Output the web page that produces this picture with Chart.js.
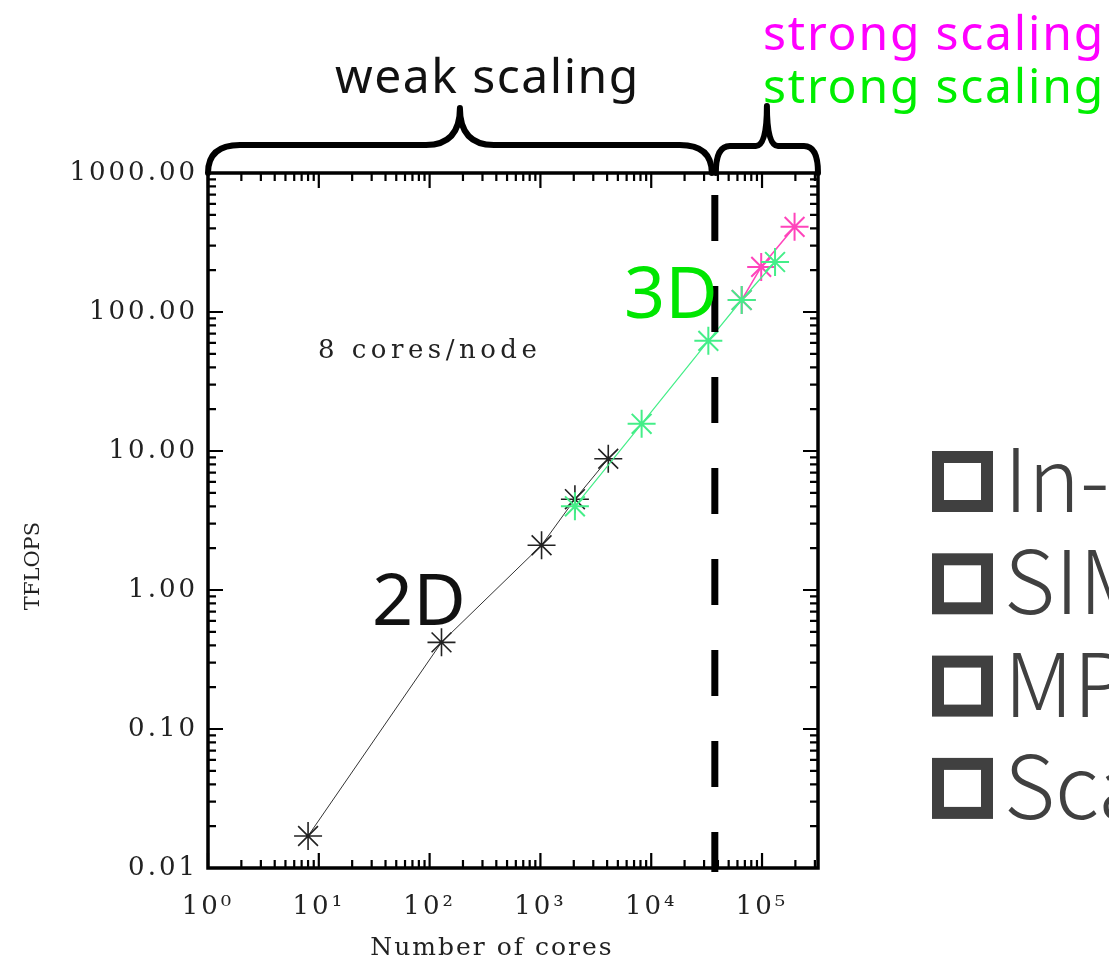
<!DOCTYPE html>
<html>
<head>
<meta charset="utf-8">
<script src="https://cdn.jsdelivr.net/npm/chart.js@4.4.1/dist/chart.umd.min.js"></script>
<style>
	html, body { margin: 0; padding: 0; background: #fff; overflow: hidden; }
	#wrap { position: relative; width: 1109px; height: 963px; }
</style>
</head>
<body>
<div id="wrap"><canvas id="scaling" width="1109" height="963"></canvas></div>
<script>
// 2D runs (black)
const coresBlack = [8, 128, 1024, 2048, 4096];
const tflopsBlack = [0.017, 0.42, 2.1, 4.5, 8.8];
// 3D runs (green)
const coresGreen = [2048, 8192, 32768, 65536, 131072];
const tflopsGreen = [4.0, 15.7, 62, 122, 229];
// 3D strong scaling (magenta)
const coresMagenta = [65536, 98304, 196608];
const tflopsMagenta = [122, 211, 410];

// where weak scaling ends
const dividerCores = 37500;

const xTickValues = [1, 10, 100, 1000, 10000, 100000];
const xTickLabels = ["10⁰", "10¹", "10²", "10³", "10⁴", "10⁵"];
const yTickValues = [0.01, 0.1, 1, 10, 100, 1000];
const yTickLabels = ["0.01", "0.10", "1.00", "10.00", "100.00", "1000.00"];

const bulletItems = ["In-", "SIM", "MP", "Sca"];

const toPoints = (xs, ys) => xs.map((x, i) => ({ x, y: ys[i] }));

// log minor tick values between min and max
const logMarks = (min, max) => {
	const out = [];
	for (let e = Math.floor(Math.log10(min)); e <= Math.ceil(Math.log10(max)); e++) {
		for (let m = 1; m <= 9; m++) {
			const v = m * Math.pow(10, e);
			if (v >= min * 0.999 && v <= max * 1.001) out.push({ v, major: m === 1 });
		}
	}
	return out;
};

const decorations = {
	id: "decorations",
	beforeDraw(chart) {
		chart.ctx.letterSpacing = "3px";
	},
	beforeDatasetsDraw(chart) {
		const { ctx, chartArea: a, scales } = chart;
		const { x, y } = scales;
		ctx.save();
		ctx.letterSpacing = "0px";
		ctx.strokeStyle = "#000";
		ctx.lineWidth = 2.2;
		// inward ticks on all four sides
		logMarks(x.min, x.max).forEach((t) => {
			const px = x.getPixelForValue(t.v);
			const len = t.major ? 15 : 8;
			ctx.beginPath();
			ctx.moveTo(px, a.bottom);
			ctx.lineTo(px, a.bottom - len);
			ctx.moveTo(px, a.top);
			ctx.lineTo(px, a.top + len);
			ctx.stroke();
		});
		logMarks(y.min, y.max).forEach((t) => {
			const py = y.getPixelForValue(t.v);
			const len = t.major ? 15 : 8;
			ctx.beginPath();
			ctx.moveTo(a.left, py);
			ctx.lineTo(a.left + len, py);
			ctx.moveTo(a.right, py);
			ctx.lineTo(a.right - len, py);
			ctx.stroke();
		});
		// frame
		ctx.lineWidth = 3.5;
		ctx.strokeRect(a.left, a.top, a.right - a.left, a.bottom - a.top);
		ctx.restore();
	},
	afterDraw(chart) {
		const { ctx, chartArea: a, scales } = chart;
		const dx = scales.x.getPixelForValue(dividerCores);
		ctx.save();
		ctx.letterSpacing = "0px";

		// dashed divider
		ctx.strokeStyle = "#000";
		ctx.lineWidth = 7;
		ctx.setLineDash([46, 45]);
		ctx.beginPath();
		ctx.moveTo(dx, 195);
		ctx.lineTo(dx, a.bottom + 4);
		ctx.stroke();
		ctx.setLineDash([]);

		// braces
		const brace = (l, r, h, peakY, rad, pw) => {
			const p = (l + r) / 2;
			ctx.beginPath();
			ctx.moveTo(l, a.top);
			ctx.quadraticCurveTo(l, h, l + rad, h);
			ctx.lineTo(p - pw, h);
			ctx.quadraticCurveTo(p, h, p, peakY);
			ctx.quadraticCurveTo(p, h, p + pw, h);
			ctx.lineTo(r - rad, h);
			ctx.quadraticCurveTo(r, h, r, a.top);
			ctx.stroke();
		};
		ctx.lineWidth = 6;
		ctx.lineJoin = "round";
		ctx.lineCap = "round";
		brace(a.left, dx - 3, 145, 108, 32, 34);
		brace(dx + 1, a.right, 146, 106, 14, 11);

		// annotations
		ctx.textBaseline = "alphabetic";
		ctx.textAlign = "left";
		ctx.font = '48px "Noto Sans"';
		ctx.fillStyle = "#111";
		ctx.letterSpacing = "1.5px";
		ctx.fillText("weak scaling", 335, 93);
		ctx.letterSpacing = "1.8px";
		ctx.fillStyle = "#ff00ff";
		ctx.fillText("strong scaling", 763, 50);
		ctx.fillStyle = "#00ee00";
		ctx.fillText("strong scaling", 763, 103);
		ctx.letterSpacing = "0px";

		ctx.font = '72px "Noto Sans"';
		ctx.fillStyle = "#00e600";
		ctx.fillText("3D", 624, 318);
		ctx.fillStyle = "#111";
		ctx.fillText("2D", 372, 625);

		ctx.font = '26px "DejaVu Serif"';
		ctx.fillStyle = "#222";
		ctx.letterSpacing = "4.5px";
		ctx.fillText("8 cores/node", 318, 358);
		ctx.font = '25px "DejaVu Serif"';
		ctx.letterSpacing = "2px";
		ctx.textAlign = "center";
		ctx.fillText("Number of cores", 492, 955);
		ctx.letterSpacing = "0px";
		ctx.save();
		ctx.translate(39, 566);
		ctx.rotate(-Math.PI / 2);
		ctx.font = '21px "DejaVu Serif"';
		ctx.fillText("TFLOPS", 0, 0);
		ctx.restore();

		// bullet list on the right
		ctx.textAlign = "left";
		ctx.font = '300 88px "Noto Sans CJK KR"';
		bulletItems.forEach((t, i) => {
			const top = 451 + 102.3 * i;
			ctx.fillStyle = "#404040";
			ctx.fillRect(932, top, 61, 61);
			ctx.fillStyle = "#fff";
			ctx.fillRect(944, top + 12, 37, 37);
			ctx.fillStyle = "#404040";
			ctx.fillText(t, 1004, top + 61);
		});
		ctx.restore();
	},
};

const ctx = document.getElementById("scaling");

new Chart(ctx, {
	type: "line",
	data: {
		datasets: [
			{
				label: "3D",
				data: toPoints(coresGreen, tflopsGreen),
				borderColor: "#44ee88",
				borderWidth: 1.2,
				pointStyle: "star",
				pointRadius: 14,
				pointBorderWidth: 2,
				pointBorderColor: "#44ee88",
				pointBackgroundColor: "transparent",
				clip: false,
			},
			{
				label: "2D",
				data: toPoints(coresBlack, tflopsBlack),
				borderColor: "#333",
				borderWidth: 1,
				pointStyle: "star",
				pointRadius: 14,
				pointBorderWidth: 1.6,
				pointBorderColor: "#222",
				pointBackgroundColor: "transparent",
				clip: false,
			},
			{
				label: "3D strong",
				data: toPoints(coresMagenta, tflopsMagenta),
				borderColor: "#ff44bb",
				borderWidth: 1.5,
				pointStyle: "star",
				pointRadius: 14,
				pointBorderWidth: 2,
				pointBorderColor: "#ff44bb",
				pointBackgroundColor: "transparent",
				clip: false,
			},
		],
	},
	options: {
		responsive: false,
		devicePixelRatio: 1,
		animation: false,
		events: [],
		layout: { padding: { top: 173, right: 291, bottom: 0, left: 0 } },
		plugins: {
			legend: { display: false },
			tooltip: { enabled: false },
		},
		scales: {
			x: {
				type: "logarithmic",
				min: 1,
				max: 320000,
				afterBuildTicks: (s) => {
					s.ticks = xTickValues.map((v) => ({ value: v }));
				},
				afterFit: (s) => {
					s.height = 95;
				},
				grid: { display: false, drawTicks: false },
				border: { display: false },
				ticks: {
					autoSkip: false,
					maxRotation: 0,
					padding: 24,
					color: "#222",
					font: { family: "DejaVu Serif", size: 26 },
					callback: (v, i) => xTickLabels[i],
				},
			},
			y: {
				type: "logarithmic",
				min: 0.01,
				max: 1000,
				afterBuildTicks: (s) => {
					s.ticks = yTickValues.map((v) => ({ value: v }));
				},
				afterFit: (s) => {
					s.width = 208;
				},
				grid: { display: false, drawTicks: false },
				border: { display: false },
				ticks: {
					autoSkip: false,
					padding: 10,
					color: "#222",
					font: { family: "DejaVu Serif", size: 26 },
					callback: (v, i) => yTickLabels[i],
				},
			},
		},
	},
	plugins: [decorations],
});
</script>
</body>
</html>
